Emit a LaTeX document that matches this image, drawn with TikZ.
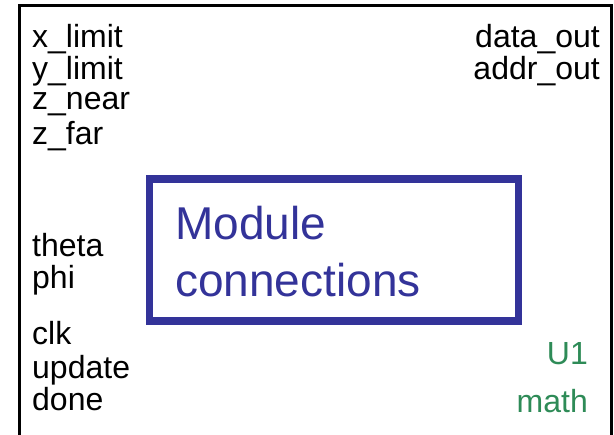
\documentclass[tikz,border=0pt]{standalone}
\usepackage{fontspec}
\setmainfont{Liberation Sans}
\usepackage{tikz}
\definecolor{modblue}{HTML}{333399}
\definecolor{instgreen}{HTML}{2E8B57}

\begin{document}
\begin{tikzpicture}[x=1pt,y=-1pt,
  portin/.style={anchor=base west,inner sep=0pt,font=\fontsize{32}{38}\selectfont},
  portout/.style={anchor=base east,inner sep=0pt,font=\fontsize{32}{38}\selectfont},
  modtext/.style={anchor=base west,inner sep=0pt,text=modblue,font=\fontsize{46}{56}\selectfont}]
  \useasboundingbox (0,0) rectangle (614,435);
  \draw[line width=3pt] (19.5,440) -- (19.5,5.5) -- (611,5.5) -- (611,440);
  \draw[modblue,line width=7.5pt] (149.5,179) rectangle (518.5,321);
  \node[modtext] (modname) at (175,240) {Module};
  \node[modtext] (modsub) at (175,297) {connections};
  \node[portin] (xlim) at (32,48) {x\_limit};
  \node[portin] (ylim) at (32,80) {y\_limit};
  \node[portin] (znear) at (32,110) {z\_near};
  \node[portin] (zfar) at (32,145) {z\_far};
  \node[portin] (theta) at (32,257) {theta};
  \node[portin] (phi) at (32,289) {phi};
  \node[portin] (clk) at (32,345) {clk};
  \node[portin] (upd) at (32,379) {update};
  \node[portin] (done) at (32,411) {done};
  \node[portout] (dout) at (600,48) {data\_out};
  \node[portout] (aout) at (600,80) {addr\_out};
  \node[portout,text=instgreen] (inst) at (588,365) {U1};
  \node[portout,text=instgreen] (cell) at (588,413) {math};
\end{tikzpicture}
\end{document}
